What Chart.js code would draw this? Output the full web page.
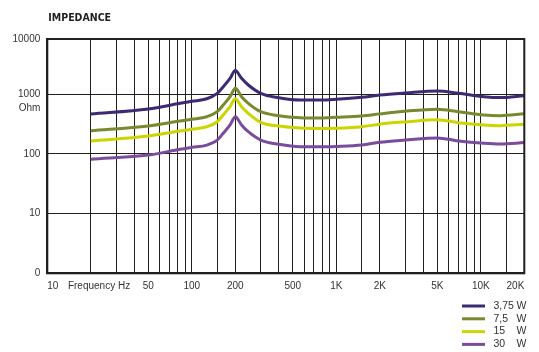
<!DOCTYPE html>
<html>
<head>
<meta charset="utf-8">
<script src="https://cdn.jsdelivr.net/npm/chart.js@4/dist/chart.umd.min.js"></script>
<style>
  html, body { margin: 0; padding: 0; background: #ffffff; }
  #wrap { width: 539px; height: 352px; position: relative; }
</style>
</head>
<body>
<div id="wrap"><canvas id="c" width="539" height="352"></canvas></div>
<script>
// ---- data ----
const titleText = 'IMPEDANCE';
const yUnit = 'Ohm';
const freqs = [20, 50, 83, 100, 127, 150, 165, 184, 200, 221, 246, 300, 400, 561, 770, 1000, 1500, 2000, 3000, 5000, 7000, 10500, 13600, 20000];
const seriesPower = ['3,75', '7,5', '15', '30'];
const seriesUnit = 'W';
const seriesColors = ['#3d2a72', '#788a2e', '#cdd500', '#7b4b9e'];
const imp375 = [467, 567, 706, 763, 843, 1038, 1340, 1854, 2500, 1854, 1432, 1038, 877, 802, 800, 824, 890, 970, 1050, 1135, 1040, 912, 880, 950];
const imp75  = [245, 294, 357, 381, 421, 511, 661, 912, 1260, 912, 706, 511, 438, 405, 400, 411, 433, 470, 522, 563, 511, 450, 438, 470];
const imp15  = [165, 200, 243, 259, 286, 347, 450, 620, 845, 620, 480, 339, 294, 272, 267, 270, 286, 316, 345, 375, 335, 306, 298, 314];
const imp30  = [81.5, 96, 120, 129, 141, 171, 222, 306, 421, 306, 236, 171, 145, 132, 132, 134, 141, 157, 171, 186, 165, 151, 147, 155];
const seriesValues = [imp375, imp75, imp15, imp30];

// x axis: grid lines and labels
const xGridFreqs = [10,20,30,40,50,60,70,80,90,100,150,200,300,400,500,600,700,800,900,
                    1000,1500,2000,3000,4000,5000,6000,7000,8000,9000,10000,15000,20000];
const xLabelFreqs = [10, 22.8, 50, 100, 200, 500, 1000, 2000, 5000, 10000, 20000];
const xLabelTexts = ['10', 'Frequency Hz', '50', '100', '200', '500', '1K', '2K', '5K', '10K', '20K'];
// y axis
const yTickValues = [1, 10, 100, 1000, 8450];
const yTickLabels = ['0', '10', '100', '1000', '10000'];

const INK = '#231f20';
const gridSet = new Set(xGridFreqs);
const xTickAll = Array.from(new Set([...xGridFreqs, ...xLabelFreqs])).sort((a, b) => a - b);

const datasets = seriesValues.map((vals, i) => ({
  label: seriesPower[i] + ' ' + seriesUnit,
  data: freqs.map((f, j) => ({ x: f, y: vals[j] })),
  borderColor: seriesColors[i],
  backgroundColor: seriesColors[i],
  borderWidth: 3,
  pointRadius: 0,
  cubicInterpolationMode: 'monotone',
  fill: false
}));

const decorPlugin = {
  id: 'decor',
  afterDraw(chart) {
    const ctx = chart.ctx;
    const a = chart.chartArea;
    ctx.save();
    // frame
    ctx.strokeStyle = INK;
    ctx.lineWidth = 2;
    ctx.strokeRect(a.left, a.top, a.right - a.left, a.bottom - a.top);
    // title
    ctx.fillStyle = INK;
    ctx.font = 'bold 10.5px "DejaVu Sans Condensed", "DejaVu Sans", sans-serif';
    ctx.textAlign = 'left';
    ctx.textBaseline = 'alphabetic';
    ctx.fillText(titleText, a.left + 1, 20.7);
    // unit label under 1000
    const yS = chart.scales.y;
    ctx.font = '10px "Liberation Sans", Arial, sans-serif';
    ctx.textAlign = 'right';
    ctx.textBaseline = 'middle';
    ctx.fillStyle = '#333333';
    ctx.fillText(yUnit, a.left - 7, yS.getPixelForValue(1000) + 14);
    // legend
    const x0 = 462, x1 = 485, tx = 493.5, wx = 516.5;
    const y0 = 306, dy = 12.8;
    ctx.font = '10.5px "Liberation Sans", Arial, sans-serif';
    ctx.textAlign = 'left';
    chart.data.datasets.forEach((ds, i) => {
      const y = y0 + i * dy;
      ctx.strokeStyle = ds.borderColor;
      ctx.lineWidth = 3;
      ctx.beginPath();
      ctx.moveTo(x0, y);
      ctx.lineTo(x1, y);
      ctx.stroke();
      ctx.fillStyle = '#333333';
      ctx.fillText(seriesPower[i], tx, y);
      ctx.fillText(seriesUnit, wx, y);
    });
    ctx.restore();
  }
};

new Chart(document.getElementById('c'), {
  type: 'line',
  data: { datasets },
  options: {
    responsive: false,
    animation: false,
    devicePixelRatio: 1,
    layout: { padding: { left: 0, right: 14.7, top: 39, bottom: 0 } },
    plugins: {
      legend: { display: false },
      title: { display: false },
      tooltip: { enabled: false }
    },
    scales: {
      x: {
        type: 'logarithmic',
        min: 10,
        max: 20000,
        afterBuildTicks(scale) { scale.ticks = xTickAll.map(v => ({ value: v })); },
        afterFit(scale) { scale.height = 352 - 273.3; },
        border: { display: true, color: INK, width: 2 },
        grid: {
          drawTicks: false,
          lineWidth: 1,
          color: (c) => (c.tick && gridSet.has(c.tick.value)) ? INK : 'rgba(0,0,0,0)'
        },
        ticks: {
          autoSkip: false,
          maxRotation: 0,
          minRotation: 0,
          align: 'inner',
          padding: 7,
          color: '#333333',
          font: { family: '"Liberation Sans", Arial, sans-serif', size: 10 },
          callback: (v) => {
            const k = xLabelFreqs.indexOf(v);
            return k >= 0 ? xLabelTexts[k] : '';
          }
        }
      },
      y: {
        type: 'logarithmic',
        min: yTickValues[0],
        max: yTickValues[yTickValues.length - 1],
        afterBuildTicks(scale) { scale.ticks = yTickValues.map(v => ({ value: v })); },
        afterFit(scale) { scale.width = 47.3; },
        border: { display: true, color: INK, width: 2 },
        grid: { drawTicks: false, lineWidth: 1, color: INK },
        ticks: {
          padding: 7,
          color: '#333333',
          font: { family: '"Liberation Sans", Arial, sans-serif', size: 10 },
          callback: (v) => {
            const k = yTickValues.indexOf(v);
            return k >= 0 ? yTickLabels[k] : '';
          }
        }
      }
    }
  },
  plugins: [decorPlugin]
});
</script>
</body>
</html>
